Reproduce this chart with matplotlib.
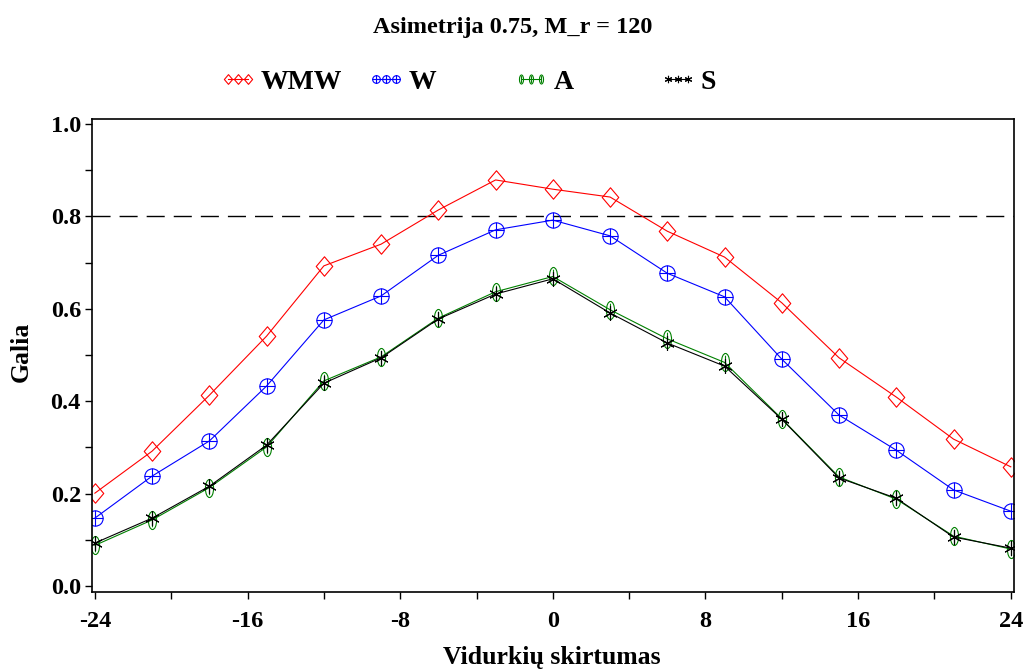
import numpy as np
import matplotlib
matplotlib.use('Agg')
import matplotlib.pyplot as plt
from matplotlib.path import Path
from matplotlib.transforms import Affine2D

plt.rcParams['font.family'] = 'Liberation Serif'
plt.rcParams['font.weight'] = 'bold'
plt.rcParams['axes.unicode_minus'] = False

# vidurkiu skirtumas ir galia kiekvienam testui
skirtumas = [-24, -21, -18, -15, -12, -9, -6, -3, 0, 3, 6, 9, 12, 15, 18, 21, 24]
wmw = [0.201, 0.292, 0.413, 0.541, 0.693, 0.740, 0.814, 0.879, 0.859,
       0.842, 0.768, 0.712, 0.613, 0.494, 0.409, 0.318, 0.258]
w = [0.147, 0.238, 0.314, 0.433, 0.576, 0.628, 0.716, 0.771, 0.792,
     0.758, 0.677, 0.626, 0.491, 0.370, 0.294, 0.208, 0.162]
a = [0.088, 0.143, 0.213, 0.301, 0.444, 0.496, 0.580, 0.637, 0.670,
     0.598, 0.535, 0.484, 0.362, 0.236, 0.188, 0.108, 0.080]
s = [0.093, 0.147, 0.216, 0.305, 0.439, 0.494, 0.578, 0.632, 0.665,
     0.591, 0.526, 0.476, 0.361, 0.234, 0.190, 0.106, 0.082]
labels = ['WMW', 'W', 'A', 'S']

# SAS stiliaus markeriai
circle = Path.unit_circle()
cross = Path([(-1, 0), (1, 0), (0, -1), (0, 1)],
             [Path.MOVETO, Path.LINETO, Path.MOVETO, Path.LINETO])
circle_plus = Path.make_compound_path(circle, cross)
oval = circle.transformed(Affine2D().scale(0.45, 1.0))
oval_bar = Path.make_compound_path(oval, Path([(0, -0.75), (0, 0.75)]))
diamond = Path([(0, 1), (0.85, 0), (0, -1), (-0.85, 0), (0, 1)], closed=True)

colors = ['#FF0000', '#0000FF', '#008000', '#000000']
markers = [diamond, circle_plus, oval_bar, (6, 2, 0)]
msizes = [14, 11, 13, 10.5]
legend_x = [220 / 1027, 368 / 1027, 513 / 1027, 660 / 1027]

fig = plt.figure(figsize=(10.27, 6.71), dpi=100)
ax = fig.add_axes([0.0896, 0.1177, 0.8974, 0.705])

ax.axhline(0.8, color='black', lw=1, dashes=(13, 6.5), zorder=1)

for lab, vals, c, m, ms, lx in zip(labels, [wmw, w, a, s], colors, markers, msizes, legend_x):
    line, = ax.plot(skirtumas, vals, color=c, lw=0.8, marker=m, ms=ms,
                    mfc='none', mec=c, mew=0.8, zorder=2)
    fig.legend(handles=[line], labels=[lab], loc='center left',
               bbox_to_anchor=(lx, 0.878), frameon=False, numpoints=3,
               markerscale=0.5, handlelength=1.3, handletextpad=0.15,
               borderpad=0, borderaxespad=0,
               prop={'size': 20, 'weight': 'bold'})

ax.set_xlim(-24.15, 24.15)
ax.set_ylim(-0.013, 1.011)
ax.set_xticks(np.arange(-24, 25, 8))
ax.set_xticks(np.arange(-20, 21, 8), minor=True)
ax.set_yticks(np.arange(0, 1.01, 0.2))
ax.set_yticks(np.arange(0.1, 1.0, 0.2), minor=True)
ax.set_yticklabels(['%.1f' % v for v in np.arange(0, 1.01, 0.2)])
ax.tick_params(which='both', direction='out', length=5, width=1,
               labelsize=17.5)
ax.tick_params(axis='x', pad=8.5)
ax.tick_params(axis='y', pad=3)
for sp in ax.spines.values():
    sp.set_linewidth(1.2)

fig.text(0.4995, 1 - 33 / 671, 'Asimetrija 0.75, M_r = 120', ha='center',
         va='baseline', fontsize=17.5, fontweight='bold')
fig.text(552 / 1027, 7 / 671, 'Vidurkių skirtumas', ha='center',
         va='baseline', fontsize=18.5, fontweight='bold')
fig.text(0.021, 0.476, 'Galia', ha='center', va='center', rotation=90,
         fontsize=18.5, fontweight='bold')

fig.savefig('out.png', dpi=100)
